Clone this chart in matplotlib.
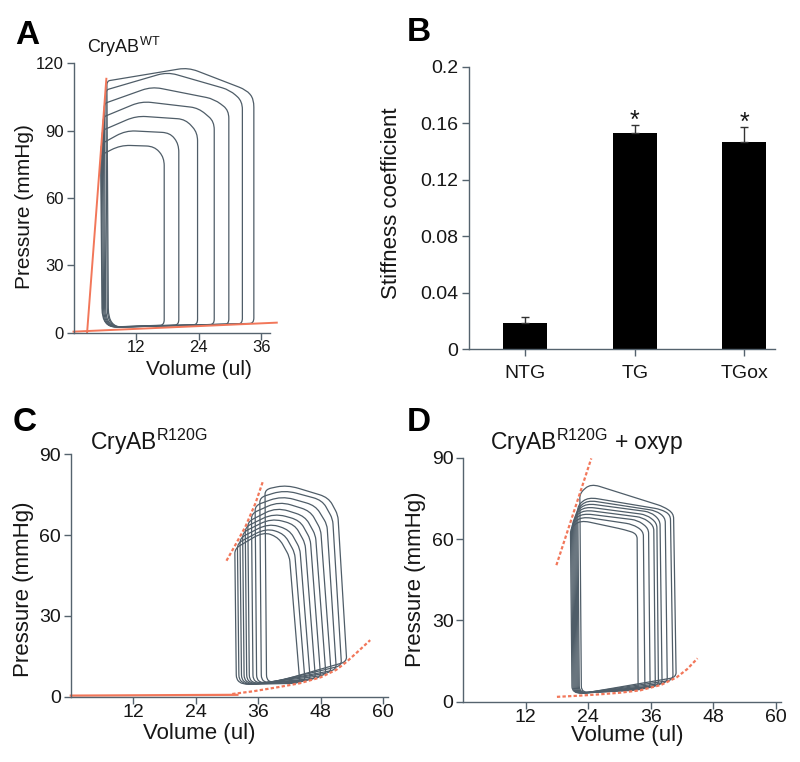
import numpy as np
import matplotlib
matplotlib.use("Agg")
import matplotlib.pyplot as plt
from matplotlib.path import Path
from matplotlib.patches import PathPatch

plt.rcParams["font.family"] = ["Liberation Sans", "DejaVu Sans"]
plt.rcParams["mathtext.default"] = "regular"

loopColor = "#4f5d68"
redColor = "#f2775a"
axisColor = "#55636e"
textColor = "#161616"

# ---- panel A : CryAB WT pressure-volume loops (ul, mmHg) ----
a_esv = [5.2, 5.3, 5.5, 5.7, 5.9, 6.2, 6.4]
a_pes = [79, 84, 90, 96, 102, 108, 112]
a_vpk = [9.0, 10.0, 12.0, 13.0, 15.0, 18.0, 22.0]
a_ppk = [83.5, 90, 96.5, 103, 109.5, 116, 118]
a_vsh = [15.5, 18.5, 21.5, 24.0, 27.0, 30.0, 33.2]
a_psh = [83, 89, 95, 100, 104, 108, 108]
a_ptr = [78, 84, 89, 94, 99, 103, 104]
a_edv = [17.4, 20.2, 23.8, 27.0, 29.8, 32.4, 34.6]
a_ped = [3.5, 3.6, 3.7, 3.8, 3.9, 4.1, 4.3]
a_espvr_v = [2.6, 6.3]
a_espvr_p = [0, 113]
a_edpvr_v = [0, 39]
a_edpvr_p = [0.6, 4.6]

# ---- panel B : stiffness coefficient ----
groups = ["NTG", "TG", "TGox"]
stiffness = [0.0188, 0.1532, 0.1469]
stiffnessErr = [0.0038, 0.0055, 0.0104]
significant = [False, True, True]

# ---- panel C : CryAB R120G ----
c_esv = [31.5, 32.0, 32.5, 33.0, 33.5, 34.0, 34.7, 35.4, 36.3, 37.3]
c_pes = [55, 57, 59, 61, 63, 65, 68, 71, 74, 77]
c_vpk = [37.0, 37.5, 38.0, 38.5, 39.0, 39.5, 40.0, 40.5, 41.0, 41.5]
c_ppk = [61.3, 62.6, 64.4, 66.3, 68.2, 70.4, 72.6, 74.6, 76.8, 78.7]
c_vsh = [40.0, 41.0, 42.0, 43.0, 44.0, 45.0, 46.0, 47.0, 48.3, 49.5]
c_psh = [59, 60.5, 62, 64, 65.5, 67, 69, 71, 73, 74]
c_vtr = [42.0, 43.0, 44.0, 45.0, 46.0, 47.0, 48.0, 49.2, 50.3, 51.3]
c_ptr = [52, 53.5, 55, 57, 58.5, 60, 62, 64, 66, 67.5]
c_vbr = [44.0, 45.0, 46.0, 47.0, 48.0, 49.0, 50.0, 51.0, 52.0, 53.0]
c_pbr = [5.0, 5.5, 6.0, 6.5, 7.0, 8.0, 9.0, 10.0, 11.5, 13.0]
c_espvr_v = [29.9, 31.5, 33.5, 35.5, 36.9]
c_espvr_p = [50.5, 56, 63, 72, 80]
c_flat_v = [0, 32]
c_flat_p = [0.4, 0.7]
c_edpvr_v = [31, 35, 40, 44, 48, 51, 53, 55, 57.5]
c_edpvr_p = [1.0, 2.0, 3.6, 5.0, 7.2, 10, 13, 16.5, 21]

# ---- panel D : CryAB R120G + oxypurinol ----
d_esv = [20.6, 20.8, 21.0, 21.2, 21.4, 21.6, 21.8, 22.0, 22.4]
d_pes = [64, 65.5, 67, 68, 69, 70, 71, 72.5, 77]
d_vpk = [22.5, 22.8, 23.0, 23.2, 23.4, 23.6, 23.8, 24.0, 24.5]
d_ppk = [67, 68.3, 69.5, 70.8, 72, 73.2, 74.4, 75.5, 80.5]
d_vsh = [31.0, 32.5, 33.5, 34.5, 35.2, 36.0, 37.0, 38.0, 38.5]
d_psh = [63.5, 65.5, 67, 68, 69, 70, 70.5, 71, 72]
d_vtr = [33.4, 34.6, 35.6, 36.6, 37.2, 37.8, 38.8, 39.8, 40.4]
d_ptr = [62, 63, 64, 65, 66, 67, 68, 69, 69.5]
d_vbr = [33.6, 34.9, 35.9, 36.9, 37.5, 38.2, 39.2, 40.3, 40.9]
d_pbr = [4.3, 4.6, 5.0, 5.4, 5.8, 6.2, 7.0, 8.0, 9.0]
d_espvr_v = [17.9, 24.6]
d_espvr_p = [50.4, 89.8]
d_edpvr_v = [18, 22, 26, 30, 34, 38, 41, 43, 45]
d_edpvr_p = [1.8, 2.2, 2.7, 3.3, 4.2, 6.2, 9, 12, 16]


def smoothLoop(pts, sx, sy, rads):
    # closed polygon with rounded corners, radius given in axes fraction
    pts = np.array(pts, float) / [sx, sy]
    n = len(pts)
    verts, codes = [], []
    for i in range(n):
        p0, p1, p2 = pts[i - 1], pts[i], pts[(i + 1) % n]
        d0 = np.hypot(*(p0 - p1))
        d2 = np.hypot(*(p2 - p1))
        r0 = min(rads[i], 0.45 * d0)
        r2 = min(rads[i], 0.45 * d2)
        verts += [p1 + (p0 - p1) / d0 * r0, p1, p1 + (p2 - p1) / d2 * r2]
        codes += [Path.MOVETO if i == 0 else Path.LINETO, Path.CURVE3, Path.CURVE3]
    verts.append(verts[0])
    codes.append(Path.LINETO)
    return Path(np.array(verts) * [sx, sy], codes)


def drawLoops(ax, esv, pes, vpk, ppk, vsh, psh, vtr, ptr, vbr, pbr, pmin, rads):
    sx = ax.get_xlim()[1]
    sy = ax.get_ylim()[1]
    for i in range(len(esv)):
        pts = [
            (esv[i] + 0.3, pmin),
            (vbr[i], pbr[i]),
            (vtr[i], ptr[i]),
            (vsh[i], psh[i]),
            (vpk[i], ppk[i]),
            (esv[i], pes[i]),
        ]
        ax.add_patch(
            PathPatch(smoothLoop(pts, sx, sy, rads), fill=False, ec=loopColor, lw=0.9)
        )


def styleAxes(ax, fs):
    ax.spines[["top", "right"]].set_visible(False)
    for s in ["left", "bottom"]:
        ax.spines[s].set_color(axisColor)
        ax.spines[s].set_linewidth(1.0)
    ax.tick_params(direction="out", length=5, width=1, color=axisColor,
                   labelsize=fs, labelcolor=textColor, pad=2)
    ax.tick_params(axis="x", pad=0)


fig = plt.figure(figsize=(8, 7.62), dpi=100)

# Panel A
axA = fig.add_axes([0.0919, 0.563, 0.2456, 0.3543])
axA.set_xlim(0, 37.7)
axA.set_ylim(0, 120)
styleAxes(axA, 12)
axA.set_xticks([12, 24, 36])
axA.set_yticks([0, 30, 60, 90, 120])
drawLoops(axA, a_esv, a_pes, a_vpk, a_ppk, a_vsh, a_psh, a_edv, a_ptr, a_edv, a_ped,
          2.5, [0.07, 0.02, 0.03, 0.04, 0.05, 0.015])
axA.plot(a_espvr_v, a_espvr_p, color=redColor, lw=1.4, clip_on=False)
axA.plot(a_edpvr_v, a_edpvr_p, color=redColor, lw=1.4, clip_on=False)
axA.set_xlabel("Volume (ul)", fontsize=15, color=textColor)
axA.set_ylabel("Pressure (mmHg)", fontsize=15, color=textColor)
axA.xaxis.set_label_coords(0.64, -0.1)
axA.yaxis.set_label_coords(-0.20, 0.47)

# Panel B
axB = fig.add_axes([0.5866, 0.5416, 0.3821, 0.371])
xpos = np.arange(len(groups))
axB.bar(xpos, stiffness, width=0.405, color="black")
axB.errorbar(xpos, stiffness, yerr=[np.zeros(len(groups)), stiffnessErr], fmt="none",
             ecolor="#333333", elinewidth=1, capsize=3)
for i in range(len(groups)):
    if significant[i]:
        axB.text(xpos[i], stiffness[i] + stiffnessErr[i] - 0.0055, "*", ha="center",
                 va="bottom", fontsize=18, color=textColor)
axB.set_xlim(-0.51, 2.28)
axB.set_ylim(0, 0.2)
styleAxes(axB, 14)
axB.set_xticks(xpos)
axB.set_xticklabels(groups)
axB.set_yticks([0, 0.04, 0.08, 0.12, 0.16, 0.2])
axB.set_yticklabels(["0", "0.04", "0.08", "0.12", "0.16", "0.2"])
axB.tick_params(axis="y", pad=3)
axB.tick_params(axis="x", pad=6)
axB.set_ylabel("Stiffness coefficient", fontsize=16, color=textColor)
axB.yaxis.set_label_coords(-0.22, 0.516)

# Panel C
axC = fig.add_axes([0.0885, 0.0857, 0.397, 0.318])
axC.set_xlim(0, 61)
axC.set_ylim(0, 90)
styleAxes(axC, 14)
axC.set_xticks([12, 24, 36, 48, 60])
axC.set_yticks([0, 30, 60, 90])
drawLoops(axC, c_esv, c_pes, c_vpk, c_ppk, c_vsh, c_psh, c_vtr, c_ptr, c_vbr, c_pbr,
          4.5, [0.04, 0.02, 0.02, 0.03, 0.04, 0.02])
axC.plot(c_espvr_v, c_espvr_p, color=redColor, lw=1.6, ls=(0, (1.5, 1)), clip_on=False)
axC.plot(c_flat_v, c_flat_p, color=redColor, lw=1.6, clip_on=False)
axC.plot(c_edpvr_v, c_edpvr_p, color=redColor, lw=1.6, ls=(0, (1.5, 1)), clip_on=False)
axC.set_xlabel("Volume (ul)", fontsize=16, color=textColor)
axC.set_ylabel("Pressure (mmHg)", fontsize=16, color=textColor)
axC.xaxis.set_label_coords(0.403, -0.108)
axC.yaxis.set_label_coords(-0.116, 0.445)

# Panel D
axD = fig.add_axes([0.579, 0.0791, 0.397, 0.320])
axD.set_xlim(0, 61)
axD.set_ylim(0, 90)
styleAxes(axD, 14)
axD.set_xticks([12, 24, 36, 48, 60])
axD.set_yticks([0, 30, 60, 90])
drawLoops(axD, d_esv, d_pes, d_vpk, d_ppk, d_vsh, d_psh, d_vtr, d_ptr, d_vbr, d_pbr,
          3.0, [0.03, 0.02, 0.02, 0.02, 0.03, 0.02])
axD.plot(d_espvr_v, d_espvr_p, color=redColor, lw=1.6, ls=(0, (1.5, 1)), clip_on=False)
axD.plot(d_edpvr_v, d_edpvr_p, color=redColor, lw=1.6, ls=(0, (1.5, 1)), clip_on=False)
axD.set_xlabel("Volume (ul)", fontsize=16, color=textColor)
axD.set_ylabel("Pressure (mmHg)", fontsize=16, color=textColor)
axD.xaxis.set_label_coords(0.516, -0.095)
axD.yaxis.set_label_coords(-0.118, 0.503)

# titles and panel letters
fig.text(0.109, 0.930, r"CryAB$^{WT}$", fontsize=13, color=textColor, va="baseline")
fig.text(0.1125, 0.409, r"CryAB$^{R120G}$", fontsize=16.5, color=textColor, va="baseline")
fig.text(0.6125, 0.409, r"CryAB$^{R120G}$ + oxyp", fontsize=16.5, color=textColor,
         va="baseline")
for letter, x, y in [("A", 0.019, 0.974), ("B", 0.509, 0.978), ("C", 0.016, 0.466),
                     ("D", 0.509, 0.466)]:
    fig.text(x, y, letter, fontsize=24, fontweight="bold", va="top", color="black")

fig.savefig("out.png", dpi=100)
